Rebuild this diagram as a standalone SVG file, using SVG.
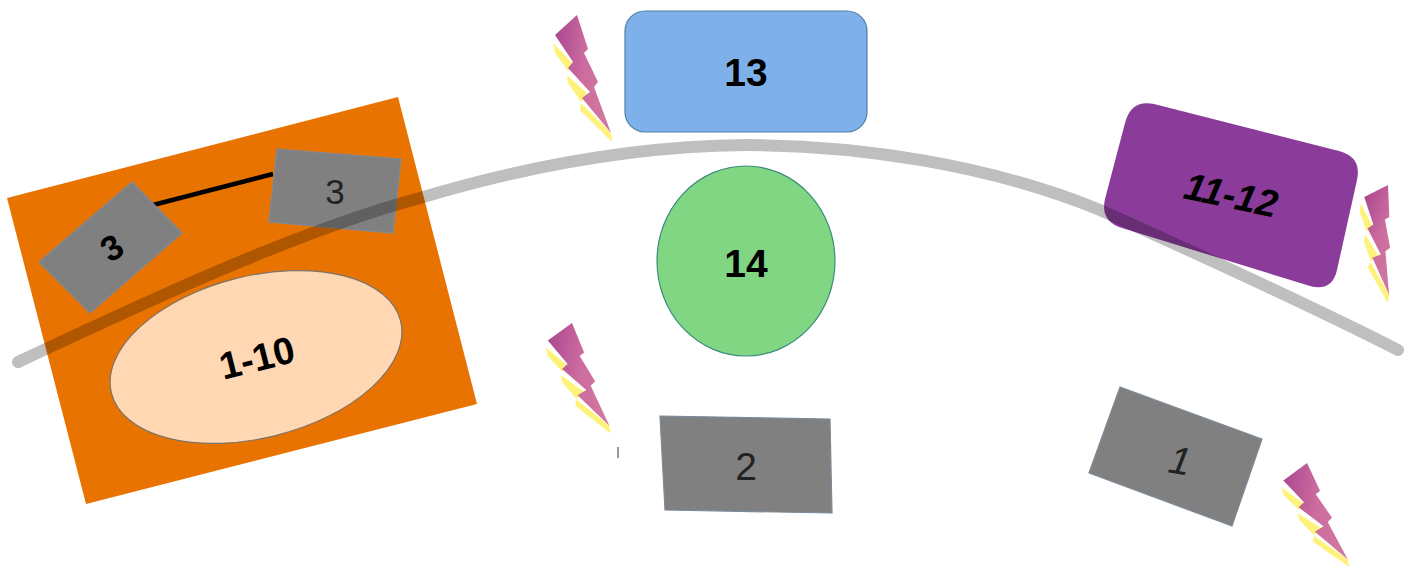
<svg xmlns="http://www.w3.org/2000/svg" width="1413" height="570" viewBox="0 0 1413 570">
<style>
text{font-family:"Liberation Sans",Arial,sans-serif;text-anchor:middle;fill:#000}
.b{font-weight:bold;font-size:39px}
.n{font-size:39px;fill:#222}
.g{fill:#808080;stroke:#7b8a99;stroke-width:1.2}
</style>
<defs>
<linearGradient id="bg" x1="0" y1="0" x2="1" y2="0.25">
<stop offset="0" stop-color="#a8468f"/><stop offset="0.6" stop-color="#cd6c9f"/><stop offset="1" stop-color="#d0769f"/>
</linearGradient>
<g id="bolt">
<g fill="#fff27a">
<polygon points="-24,28 -3,50 -9,56 -22,38"/>
<polygon points="-10,60 12,80 4,87 -9,68"/>
<polygon points="4,88 34,118 35,127 3,95"/>
</g>
<polygon fill="url(#bg)" points="0,0 11,34 7,38 21,67 17,72 34,118 5,83 13,77 -9,53 -4,47 -22,20"/>
</g>
</defs>
<g id="bolt-a"><use href="#bolt" transform="translate(577 15)"/></g>
<g id="bolt-b"><use href="#bolt" transform="translate(572 323) scale(1.1 .87)"/><path d="M618 447v11" stroke="#777" stroke-width="1.5"/></g>
<g id="bolt-c"><use href="#bolt" transform="translate(1388 185) rotate(15.5) scale(.895)"/></g>
<g id="bolt-d"><use href="#bolt" transform="translate(1307 463) rotate(-2) scale(1.1 .83)"/></g>
<g id="node-group-1-10">
<polygon fill="#e97300" points="7,198 398,97 477,404 86,504"/>
</g>
<g id="connectors-line"><path d="M153 205L273 174" stroke="#000" stroke-width="4.5" fill="none"/></g>
<g id="node-3a"><polygon class="g" points="132,182 182,233 90,313 39,262"/><text class="b" style="font-size:35px" transform="translate(112 248) rotate(-32)" y="12">3</text></g>
<g id="node-3b"><polygon class="g" points="277,149 401,159 393,233 269,222"/><text class="n" x="335" y="204" style="font-size:35px">3</text></g>
<g id="node-1-10"><ellipse cx="256" cy="357" rx="149" ry="81" transform="rotate(-14 256 357)" fill="#ffd7b3" stroke="#7d7468" stroke-width="1.2"/><text class="b" style="font-size:38px" transform="translate(257 358) rotate(-14)" y="13">1-10</text></g>
<g id="node-13"><rect x="625" y="11" width="242" height="121" rx="20" fill="#7eb1ea" stroke="#4f81a8" stroke-width="1.2"/><text class="b" x="746" y="86">13</text></g>
<g id="node-14"><ellipse cx="746" cy="261" rx="89" ry="95" fill="#80d682" stroke="#3c8c7c" stroke-width="1.2"/><text class="b" x="746" y="277">14</text></g>
<g id="node-2"><polygon class="g" points="660,416 830,419 832,513 665,510"/><text class="n" x="746" y="480">2</text></g>
<g id="node-1"><polygon class="g" points="1120,387 1262,439 1232,526 1089,473"/><text class="n" font-style="italic" transform="translate(1180 461) rotate(10)" y="13">1</text></g>
<g id="node-11-12"><path d="M1125 123Q1131 99 1154 104L1339 151Q1362 157 1357 180L1337 270Q1332 292 1310 286L1122 228Q1100 221 1105 199Z" fill="#8b3c9b"/><text class="b" style="font-size:38px" font-style="italic" transform="translate(1231 195) rotate(12)" y="13">11-12</text></g>
<g id="connectors"><path d="M18 362C150 300 300 230 420 198C530 165 640 146 745 145C860 145 990 165 1100 210C1200 255 1310 305 1398 350" fill="none" stroke="#000" stroke-opacity=".25" stroke-width="12" stroke-linecap="round"/></g>
</svg>
